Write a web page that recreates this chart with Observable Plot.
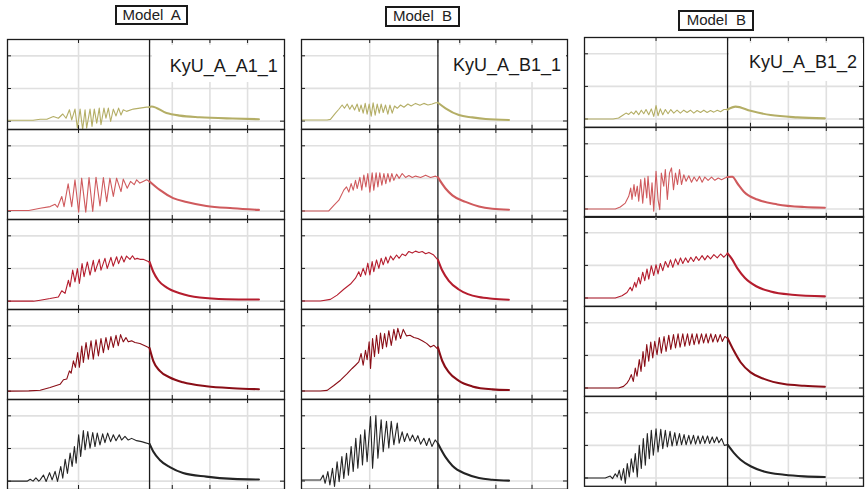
<!DOCTYPE html>
<html><head><meta charset="utf-8">
<script src="https://cdn.jsdelivr.net/npm/d3@7"></script>
<script src="https://cdn.jsdelivr.net/npm/@observablehq/plot@0.6"></script>
<style>
body{margin:0;background:#fff;}
#root{position:relative;width:865px;height:489px;overflow:hidden;font-family:"Liberation Sans",Arial,sans-serif;background:#fff;}
.cell{position:absolute;}
.cell svg{overflow:visible;display:block;}
.title{position:absolute;border:2px solid #1a1a1a;background:#fff;font-size:15px;white-space:pre;text-align:center;line-height:16px;box-sizing:border-box;color:#222;}
.label{position:absolute;background:#fff;font-size:18px;line-height:18px;text-align:right;box-sizing:border-box;color:#1a1a1a;white-space:pre;}
</style></head><body><div id="root"></div>
<script>
// ---------- data (time t: 0..195, divider at t = 100; value v per row) ----------
const columnTitles = ["Model  A", "Model  B", "Model  B"];
const panelLabels = ["KyU_A_A1_1", "KyU_A_B1_1", "KyU_A_B1_2"];
const rowColors = ["#b4ae66", "#cf5a5d", "#b51d2e", "#8a0e17", "#242424"];
const xDomain = [0, 195];
const yDomain = [-0.255, 2.5];
const xGridTicks = [50, 100, 116, 142.5, 169];
const xDivider = 100;
const yGridTicks = [0, 1, 2];

// Model A – KyU_A_A1_1
const A1_1 = [[0,0.03],[18,0.03],[23,0.06],[27.7,0.06],[32.3,0.14],[35.8,0.09],[38.9,0.22],[41.2,0.09],[43.6,0.35],[45.2,0.04],[47.5,0.37],[49.2,-0.21],[51.1,0.37],[52.9,-0.25],[54.6,0.35],[55.7,-0.21],[58.1,0.37],[59.5,-0.16],[61.1,0.37],[62.8,-0.06],[64.6,0.40],[65.8,-0.11],[67.9,0.40],[69.3,0.09],[71.0,0.40],[72.6,-0.01],[74.5,0.37],[76.4,0.16],[78.2,0.40],[79.9,0.19],[81.5,0.35],[83.8,0.30],[88.5,0.37],[93.2,0.40],[97.9,0.43],[100,0.43],[101.4,0.45],[111.9,0.25],[121.3,0.17],[135.3,0.12],[158.5,0.08],[177,0.06]];
const A1_2 = [[0,0.02],[15,0.02],[23,0.09],[30,0.14],[33.5,0.21],[35.2,0.12],[38.2,0.45],[39.8,0.14],[42.7,0.84],[45.2,0.14],[47.5,0.96],[50.1,-0.03],[52.2,1.01],[55.1,-0.03],[57.4,1.03],[60.0,-0.01],[62.3,1.04],[65.1,0.16],[67.5,1.03],[69.8,0.29],[72.1,1.01],[74.5,0.45],[76.8,1.01],[79.9,0.60],[81.5,0.98],[84.3,0.70],[86.6,0.91],[89.2,0.81],[90.9,0.96],[93.2,0.86],[95.5,0.91],[97.9,0.96],[100,0.91],[107.2,0.65],[116.6,0.40],[126,0.28],[140,0.16],[158.7,0.09],[177,0.04]];
const A1_3 = [[0,0],[18.3,0],[23,0.03],[30,0.08],[35.8,0.13],[38.2,0.32],[40.5,0.24],[42.9,0.64],[44.0,0.44],[45.9,0.95],[47.5,0.59],[49.2,1.0],[50.6,0.54],[52.5,1.15],[53.9,0.75],[56.2,1.2],[58.1,0.80],[60.4,1.25],[61.6,0.90],[64.6,1.28],[65.8,0.95],[68.6,1.31],[70.2,1.0],[72.8,1.34],[74.4,1.07],[76.8,1.36],[78.2,1.15],[80.3,1.38],[82.0,1.20],[83.8,1.38],[86.2,1.28],[88,1.39],[89.7,1.28],[91.3,1.31],[93.2,1.28],[95.5,1.28],[97.9,1.24],[100,1.20],[102.6,0.90],[106.1,0.64],[111.9,0.42],[121.3,0.24],[135.3,0.11],[154,0.06],[177,0.05]];
const A1_4 = [[0,0],[15,0.01],[23,0.03],[30,0.11],[37,0.21],[39.4,0.35],[41.7,0.37],[43.6,0.62],[44.8,0.55],[46.4,0.93],[47.8,0.73],[49.4,1.18],[50.6,0.73],[52.3,1.38],[53.4,0.88],[55.3,1.49],[56.9,0.98],[58.8,1.54],[60.4,0.98],[62.3,1.57],[64.0,1.08],[65.8,1.61],[67.5,1.18],[69.3,1.64],[71.0,1.27],[72.8,1.67],[74.5,1.34],[76.4,1.71],[78.0,1.39],[79.6,1.73],[81.5,1.51],[83.4,1.64],[85.0,1.51],[87.4,1.54],[89.7,1.49],[93.2,1.46],[96.7,1.39],[100,1.32],[102.6,0.93],[107.2,0.62],[114.3,0.42],[123.6,0.27],[140,0.15],[158.7,0.09],[177,0.06]];
const A1_5 = [[0,0],[13.8,0],[16,0.06],[18,0.0],[20,0.10],[22,0.0],[23,0.04],[25.3,0.19],[27.2,-0.01],[29.6,0.26],[31.4,0.04],[33.5,0.30],[35.2,-0.01],[37.5,0.45],[38.9,0.09],[40.6,0.67],[42.2,0.24],[44.1,0.86],[45.5,0.45],[47.1,1.06],[48.3,0.55],[50.1,1.42],[51.5,0.76],[53.4,1.55],[54.6,0.96],[56.5,1.52],[58.1,1.01],[60.0,1.49],[61.6,1.06],[63.2,1.47],[65.1,1.11],[67.0,1.45],[68.6,1.18],[70.5,1.47],[72.6,1.21],[74.5,1.42],[76.4,1.24],[78.7,1.42],[80.3,1.26],[82.7,1.37],[85.0,1.26],[87.4,1.31],[90.9,1.24],[94.4,1.21],[96.7,1.18],[100,1.14],[102.6,0.91],[107.2,0.65],[114.3,0.43],[123.6,0.25],[140,0.14],[158.7,0.07],[177,0.05]];

// Model B – KyU_A_B1_1
const B1_1 = [[0,0.03],[18.8,0.03],[21.2,0.05],[24.9,0.24],[27.4,0.36],[29.8,0.49],[31.5,0.39],[33.5,0.52],[35.4,0.36],[37.1,0.49],[38.9,0.34],[40.8,0.52],[42.3,0.29],[43.7,0.49],[45.2,0.24],[46.7,0.54],[48.1,0.21],[49.6,0.52],[51.1,0.15],[52.5,0.56],[54.0,0.18],[55.5,0.52],[57.0,0.24],[58.4,0.52],[59.9,0.26],[61.6,0.49],[63.3,0.21],[64.8,0.49],[66.5,0.24],[68.2,0.46],[70.2,0.39],[72.6,0.49],[75.1,0.42],[78.0,0.52],[80.4,0.46],[83.6,0.54],[86.8,0.48],[89.7,0.54],[92.7,0.49],[95.8,0.52],[98.3,0.56],[100,0.56],[105.6,0.39],[115.4,0.18],[125.2,0.11],[135,0.06],[152.1,0.03]];
const B1_2 = [[0,0],[20,0],[23.7,0.17],[27.4,0.33],[31,0.64],[33,0.74],[34.7,0.58],[36.4,0.84],[37.9,0.64],[39.6,0.94],[40.8,0.69],[42.8,1.03],[44.2,0.64],[45.7,1.10],[47.2,0.74],[48.6,1.15],[50.1,0.58],[51.8,1.17],[53.0,0.64],[54.7,1.17],[56,0.74],[57.4,1.17],[58.9,0.79],[60.4,1.15],[61.8,0.84],[63.3,1.15],[64.8,0.89],[66.2,1.15],[67.7,0.94],[69.7,1.13],[71.6,1.0],[73.8,1.15],[76.3,1.03],[78.7,1.09],[81.2,1.03],[83.6,1.07],[87.3,1.03],[91,1.10],[94.6,1.03],[98.3,1.07],[100,1.03],[105.6,0.69],[110.6,0.48],[120.3,0.28],[130.1,0.14],[139.9,0.07],[152.1,0.04]];
const B1_3 = [[0,0],[13.9,0],[21.2,0.05],[26.1,0.18],[31,0.36],[35.9,0.52],[39.6,0.70],[42,0.90],[43.3,0.75],[45.2,1.0],[46.9,0.80],[48.6,1.16],[50.1,0.80],[51.8,1.21],[53,0.90],[55,1.26],[56.7,1.0],[58.4,1.31],[59.9,1.11],[61.8,1.35],[63.3,1.16],[65.3,1.38],[67.2,1.26],[69.7,1.41],[71.6,1.31],[73.8,1.44],[76.3,1.39],[78.7,1.52],[81.2,1.47],[83.6,1.53],[86.1,1.49],[88.5,1.52],[91,1.45],[93.4,1.49],[96.6,1.42],[99,1.31],[100,1.26],[103,0.95],[108,0.62],[115,0.36],[122,0.21],[130,0.12],[140,0.07],[152,0.04]];
const B1_4 = [[0,0],[13.9,0],[18.8,0.02],[23.7,0.17],[28.6,0.33],[33.5,0.53],[37.1,0.69],[39.6,0.79],[42,0.89],[43.7,1.15],[45.2,0.79],[46.9,1.25],[48.1,0.96],[49.6,1.51],[50.6,0.69],[52.1,1.61],[53.5,1.05],[55,1.71],[56.5,1.15],[57.9,1.78],[59.4,1.30],[60.9,1.76],[62.3,1.35],[64,1.85],[65.8,1.40],[67.7,1.89],[69.2,1.56],[70.6,1.92],[72.6,1.61],[74.6,1.89],[77.0,1.69],[79.5,1.71],[82.4,1.64],[85.3,1.61],[88.5,1.54],[91.7,1.46],[94.6,1.35],[97.1,1.40],[99.5,1.30],[100,1.34],[103.2,0.92],[108.1,0.57],[115.4,0.31],[125.2,0.14],[139.9,0.05],[152.1,0.03]];
const B1_5 = [[0,0.03],[13.9,0.03],[15.9,0.18],[17.3,-0.07],[19.3,0.29],[20.8,-0.12],[22.7,0.39],[24.2,-0.17],[26.1,0.59],[27.6,-0.02],[29.6,0.75],[31,0.08],[33,0.85],[34.4,0.18],[36.4,1.06],[37.9,0.29],[39.8,1.31],[41.3,0.39],[43.3,1.42],[44.7,0.49],[46.4,1.57],[48.1,0.59],[50.6,1.98],[52.1,0.39],[54.5,2.01],[56,0.70],[58.4,1.88],[59.9,0.90],[62.3,1.83],[64,1.01],[65.8,1.83],[67.7,1.11],[70.2,1.78],[71.6,1.16],[73.8,1.51],[75.5,1.21],[77.5,1.46],[79.5,1.23],[81.4,1.41],[83.4,1.21],[85.3,1.39],[87.3,1.13],[89.7,1.31],[91.7,1.09],[93.6,1.31],[95.6,1.06],[98,1.26],[100,1.15],[105.6,0.73],[110.6,0.47],[120.3,0.22],[130.1,0.09],[139.9,0.04],[152.1,0.01]];

// Model B – KyU_A_B1_2
const B2_1 = [[0,0],[20,0],[23.8,0.03],[27.3,0.13],[29.0,0.18],[30.9,0.14],[32.7,0.22],[34.4,0.15],[36.0,0.25],[37.9,0.13],[39.7,0.27],[41.4,0.16],[43.0,0.29],[44.9,0.13],[46.7,0.31],[48.4,0.08],[50.0,0.41],[51.4,0.10],[53.0,0.31],[54.7,0.13],[56.5,0.29],[58.4,0.16],[60.3,0.29],[62.4,0.18],[64.7,0.27],[67.0,0.18],[69.4,0.27],[71.7,0.20],[74.0,0.27],[76.4,0.18],[78.7,0.26],[81.1,0.20],[83.4,0.27],[85.7,0.20],[88.1,0.26],[90.4,0.21],[92.8,0.27],[95.1,0.22],[97.4,0.29],[100,0.29],[105.6,0.38],[116.1,0.25],[130.1,0.12],[148.8,0.05],[168,0.02]];
const B2_2 = [[0,0],[21.5,0],[25.0,0.06],[28.5,0.18],[30.9,0.39],[32.3,0.64],[33.2,0.29],[34.6,0.75],[35.5,0.39],[36.9,0.70],[37.9,0.24],[39.3,0.90],[40.7,0.18],[42.1,0.95],[43.5,0.34],[44.4,1.0],[46.0,0.13],[47.2,0.80],[48.4,-0.07],[50.0,1.16],[51.4,0.29],[52.6,-0.02],[53.7,1.10],[55.4,0.70],[56.5,1.21],[57.9,0.29],[59.4,1.10],[60.8,1.26],[62.2,0.59],[63.6,1.10],[65.0,0.75],[66.4,1.21],[67.8,0.75],[69.4,1.05],[71.0,0.85],[72.9,1.02],[74.8,0.82],[76.6,0.98],[78.5,0.85],[80.4,1.0],[82.2,0.82],[84.1,0.98],[86.4,0.88],[88.8,0.98],[91.1,0.88],[93.5,0.95],[95.8,0.90],[98.1,0.95],[100,0.98],[103.3,0.99],[106.8,0.79],[111.4,0.53],[120.8,0.29],[134.8,0.14],[153.5,0.06],[168,0.04]];
const B2_3 = [[0,0],[21.5,0],[26.2,0.07],[29.7,0.17],[32.0,0.33],[33.2,0.22],[35.1,0.48],[36.0,0.33],[37.9,0.63],[39.0,0.43],[40.7,0.79],[42.1,0.53],[43.7,0.89],[44.9,0.58],[46.7,0.99],[48.4,0.69],[50.0,1.02],[51.4,0.74],[53.0,1.06],[54.7,0.84],[56.5,1.12],[58.4,0.94],[60.1,1.17],[61.7,0.94],[63.6,1.20],[65.4,1.02],[67.1,1.23],[68.7,1.06],[70.6,1.23],[72.4,1.09],[74.3,1.25],[76.2,1.12],[78.0,1.27],[79.9,1.15],[82.2,1.30],[84.1,1.17],[86.0,1.30],[88.1,1.20],[90.4,1.33],[92.8,1.23],[95.1,1.35],[97.4,1.25],[100,1.37],[103,1.2],[107,0.9],[112,0.62],[120,0.36],[130,0.2],[145,0.1],[168,0.05]];
const B2_4 = [[0,0],[23.8,0],[27.3,0.05],[29.7,0.15],[31.3,0.26],[32.7,0.41],[34.1,0.20],[35.5,0.61],[36.7,0.36],[38.3,0.87],[39.5,0.51],[40.9,1.12],[42.1,0.66],[43.5,1.33],[44.9,0.82],[46.3,1.41],[47.7,0.92],[49.1,1.43],[50.7,1.02],[52.3,1.55],[53.7,1.07],[55.6,1.58],[57.0,1.12],[58.9,1.62],[60.3,1.18],[62.2,1.64],[63.6,1.23],[65.4,1.66],[66.8,1.25],[68.7,1.66],[70.1,1.28],[72.0,1.66],[73.4,1.31],[75.2,1.66],[76.6,1.33],[78.5,1.66],[79.9,1.35],[81.8,1.66],[83.2,1.38],[85.0,1.66],[86.4,1.38],[88.3,1.66],[89.7,1.41],[91.6,1.64],[93.0,1.41],[94.9,1.64],[96.3,1.43],[98.1,1.58],[100,1.53],[104.4,1.14],[109.1,0.79],[116.1,0.48],[125.4,0.28],[139.5,0.12],[153.5,0.07],[168,0.04]];
const B2_5 = [[0,0],[14.5,0],[18.0,0.06],[19.6,-0.02],[21.5,0.13],[22.9,0.03],[24.3,0.24],[25.7,-0.07],[27.3,0.29],[28.5,-0.17],[29.9,0.44],[31.3,0.03],[32.7,0.59],[34.1,0.18],[35.5,0.75],[36.9,0.03],[38.3,1.0],[39.7,0.29],[41.1,1.21],[42.5,0.39],[43.9,1.36],[45.3,0.59],[46.7,1.46],[48.1,0.70],[50.0,1.51],[51.4,0.80],[53.3,1.49],[54.7,0.90],[56.5,1.46],[57.9,0.95],[59.8,1.43],[61.2,0.98],[63.1,1.39],[64.5,1.0],[66.4,1.36],[67.8,1.02],[69.6,1.33],[71.0,1.02],[72.9,1.31],[74.3,1.04],[76.2,1.31],[77.6,1.04],[79.4,1.29],[80.8,1.05],[82.7,1.29],[84.1,1.06],[86.0,1.29],[87.4,1.06],[89.3,1.26],[90.7,1.08],[92.5,1.26],[93.9,1.08],[95.8,1.21],[97.7,1.00],[100,1.02],[104.4,0.77],[109.1,0.56],[116.1,0.36],[125.4,0.20],[139.5,0.10],[153.5,0.05],[168,0.03]];

const seriesByColumn = [
  [A1_1, A1_2, A1_3, A1_4, A1_5],
  [B1_1, B1_2, B1_3, B1_4, B1_5],
  [B2_1, B2_2, B2_3, B2_4, B2_5]
];

// ---------- layout (pixels) ----------
const layout = [
  {left: 7.3, top: 39.3, width: 277, rowH: 90,
   title: {x: 115, y: 5, w: 73.3, h: 20},
   label: {x: 151.7, y: 45, w: 131.8, h: 36.7, padR: 5.6, padT: 11.5}},
  {left: 301, top: 39.3, width: 266, rowH: 89.8,
   title: {x: 385, y: 5.7, w: 75, h: 21},
   label: {x: 439, y: 45, w: 127.3, h: 37, padR: 5.3, padT: 10.8}},
  {left: 584.3, top: 36.7, width: 279, rowH: 89.8,
   title: {x: 678.3, y: 10, w: 76, h: 21},
   label: {x: 729, y: 43, w: 134.3, h: 38, padR: 6.2, padT: 10.1}}
];

const gridColor = "#e0e0e0";
const ink = "#1c1c1c";
const root = document.getElementById("root");

layout.forEach((col, c) => {
  seriesByColumn[c].forEach((series, r) => {
    const color = rowColors[r];
    const rise = series.filter(d => d[0] <= xDivider);
    const decay = series.filter(d => d[0] >= xDivider);
    const svg = Plot.plot({
      width: col.width,
      height: col.rowH,
      margin: 0,
      style: {background: "transparent", overflow: "visible"},
      x: {domain: xDomain, axis: null},
      y: {domain: yDomain, axis: null},
      marks: [
        Plot.ruleY(yGridTicks, {stroke: gridColor, strokeWidth: 1.6}),
        Plot.ruleX(xGridTicks.filter(d => d !== xDivider), {stroke: gridColor, strokeWidth: 1.6}),
        Plot.ruleY(yGridTicks, {insetRight: col.width - 4, stroke: ink, strokeWidth: 1}),
        Plot.ruleY(yGridTicks, {insetLeft: col.width - 4, stroke: ink, strokeWidth: 1}),
        Plot.ruleX(xGridTicks, {insetBottom: col.rowH - 4, stroke: ink, strokeWidth: 1}),
        Plot.ruleX(xGridTicks, {insetTop: col.rowH - 4, stroke: ink, strokeWidth: 1}),
        Plot.ruleX([xDivider], {stroke: ink, strokeWidth: 1.3}),
        Plot.line(rise, {x: d => d[0], y: d => d[1], stroke: color, strokeWidth: 1.1, strokeLinejoin: "round"}),
        Plot.line(decay, {x: d => d[0], y: d => d[1], stroke: color, strokeWidth: 2.1, curve: "monotone-x"}),
        Plot.frame({stroke: ink, strokeWidth: 1.3})
      ]
    });
    const cell = document.createElement("div");
    cell.className = "cell";
    cell.style.left = col.left + "px";
    cell.style.top = (col.top + r * col.rowH) + "px";
    cell.style.width = col.width + "px";
    cell.style.height = col.rowH + "px";
    cell.appendChild(svg);
    root.appendChild(cell);
  });

  const lab = document.createElement("div");
  lab.className = "label";
  Object.assign(lab.style, {left: col.label.x + "px", top: col.label.y + "px", width: col.label.w + "px",
    height: col.label.h + "px", paddingRight: col.label.padR + "px", paddingTop: col.label.padT + "px"});
  lab.textContent = panelLabels[c];
  root.appendChild(lab);

  const t = document.createElement("div");
  t.className = "title";
  Object.assign(t.style, {left: col.title.x + "px", top: col.title.y + "px", width: col.title.w + "px", height: col.title.h + "px"});
  t.textContent = columnTitles[c];
  root.appendChild(t);
});
</script>
</body></html>
